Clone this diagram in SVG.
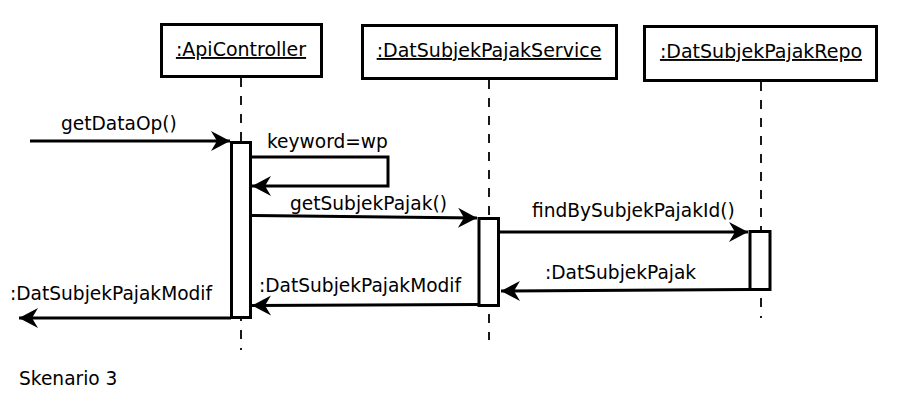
<svg xmlns="http://www.w3.org/2000/svg" width="907" height="414" viewBox="0 0 907 414">
<style>
.box{fill:#fff;stroke:#000;stroke-width:3}
.act{fill:#fff;stroke:#000;stroke-width:3}
.life{stroke:#000;stroke-width:1.8;stroke-dasharray:9 9;fill:none}
.msg{stroke:#000;stroke-width:3;fill:none}
.t{font-family:"DejaVu Sans",sans-serif;font-size:18.6px;fill:#000}
.h{font-family:"DejaVu Sans",sans-serif;font-size:19px;fill:#000;text-decoration:underline}
</style>
<defs>
<marker id="arr" markerUnits="userSpaceOnUse" markerWidth="24" markerHeight="24" viewBox="-20 -12 24 24" refX="0" refY="0" orient="auto">
<path d="M0,0 L-19,-10 L-13,0 L-19,10 Z" fill="#000"/>
</marker>
</defs>
<g id="lifelines">
<line class="life" x1="241" y1="78" x2="241" y2="350"/>
<line class="life" x1="489" y1="80" x2="489" y2="340"/>
<line class="life" x1="761" y1="82" x2="761" y2="318"/>
</g>
<g id="apiController">
<rect class="box" x="161.5" y="24.5" width="160" height="52"/>
<text class="h" x="241" y="56" text-anchor="middle">:ApiController</text>
</g>
<g id="service">
<rect class="box" x="362.5" y="25.5" width="254" height="53"/>
<text class="h" x="489" y="57" text-anchor="middle">:DatSubjekPajakService</text>
</g>
<g id="repo">
<rect class="box" x="644.5" y="26.5" width="232" height="54"/>
<text class="h" x="761" y="58" text-anchor="middle">:DatSubjekPajakRepo</text>
</g>
<g id="activations">
<rect class="act" x="231.5" y="142.5" width="19" height="175"/>
<rect class="act" x="479" y="218.5" width="19.5" height="87"/>
<rect class="act" x="750" y="231.5" width="20" height="58"/>
</g>
<g id="connectors">
<line class="msg" x1="30" y1="141" x2="230" y2="141" marker-end="url(#arr)"/>
<polyline class="msg" points="251,157 388,157 388,186 252,186" marker-end="url(#arr)"/>
<line class="msg" x1="251" y1="215.5" x2="477" y2="218" marker-end="url(#arr)"/>
<line class="msg" x1="500" y1="232" x2="748" y2="232" marker-end="url(#arr)"/>
<line class="msg" x1="749" y1="289.5" x2="501" y2="291" marker-end="url(#arr)"/>
<line class="msg" x1="478" y1="304.5" x2="252" y2="305.5" marker-end="url(#arr)"/>
<line class="msg" x1="231" y1="318" x2="19" y2="318" marker-end="url(#arr)"/>
</g>
<g id="labels">
<text class="t" x="61" y="130">getDataOp()</text>
<text class="t" x="267" y="148">keyword=wp</text>
<text class="t" x="290" y="210">getSubjekPajak()</text>
<text class="t" x="532" y="217">findBySubjekPajakId()</text>
<text class="t" x="545" y="279">:DatSubjekPajak</text>
<text class="t" x="259" y="292">:DatSubjekPajakModif</text>
<text class="t" x="10" y="300">:DatSubjekPajakModif</text>
<text class="t" x="19" y="385">Skenario 3</text>
</g>
</svg>
